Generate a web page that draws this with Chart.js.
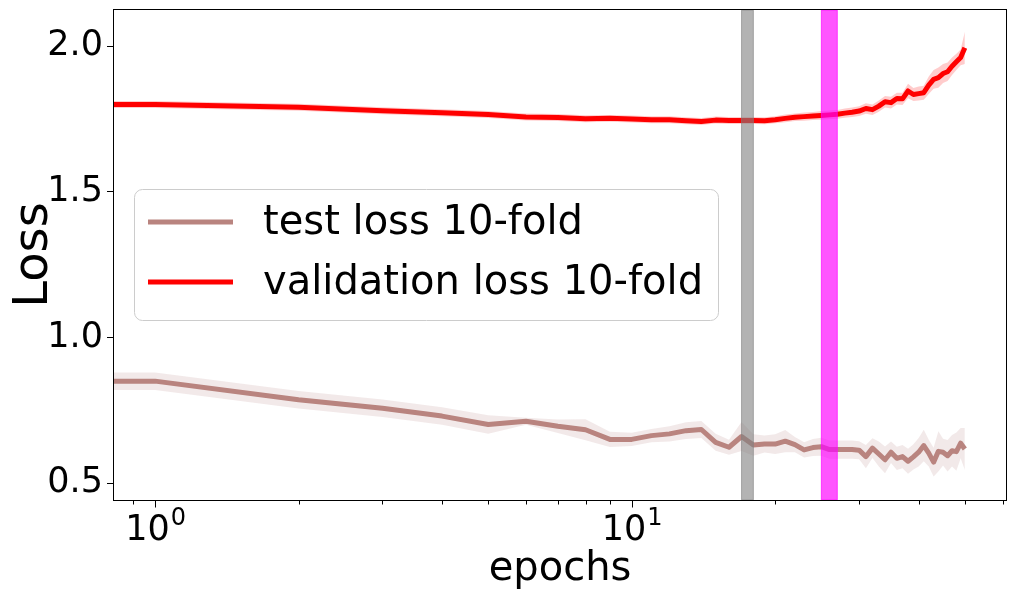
<!DOCTYPE html>
<html>
<head>
<meta charset="utf-8">
<script src="https://cdn.jsdelivr.net/npm/chart.js@4.4.0/dist/chart.umd.min.js"></script>
<style>
  html, body { margin: 0; padding: 0; background: #fff; }
  #wrap { width: 1017px; height: 594px; }
</style>
</head>
<body>
<div id="wrap"><canvas id="c"></canvas></div>
<script>
// ── Data ─────────────────────────────────────────────────────
const epochs = [0, 1, 2, 3, 4, 5, 6, 7, 8, 9, 10, 11, 12, 13, 14, 15, 16, 17, 18, 19, 20,
  21, 22, 23, 24, 25, 26, 27, 28, 29, 30, 31, 32, 33, 34, 35, 36, 37, 38, 39, 40,
  41, 42, 43, 44, 45, 46, 47, 48, 49, 50];

const testLoss = [0.850, 0.850, 0.786, 0.757, 0.730, 0.701, 0.712, 0.695, 0.683, 0.650, 0.650,
  0.663, 0.669, 0.680, 0.684, 0.640, 0.623, 0.660, 0.631, 0.634, 0.634,
  0.644, 0.632, 0.614, 0.622, 0.625, 0.615, 0.615, 0.615, 0.615, 0.613,
  0.591, 0.620, 0.600, 0.580, 0.606, 0.585, 0.591, 0.575, 0.590, 0.606,
  0.629, 0.603, 0.572, 0.609, 0.606, 0.594, 0.611, 0.608, 0.637, 0.617];

const testStd = [0.030, 0.030, 0.030, 0.030, 0.030, 0.032, 0.012, 0.023, 0.036, 0.026, 0.023,
  0.023, 0.026, 0.029, 0.029, 0.029, 0.026, 0.050, 0.037, 0.029, 0.034,
  0.038, 0.026, 0.026, 0.029, 0.031, 0.031, 0.031, 0.031, 0.031, 0.031,
  0.040, 0.034, 0.043, 0.046, 0.037, 0.040, 0.040, 0.043, 0.043, 0.049,
  0.054, 0.046, 0.049, 0.069, 0.046, 0.054, 0.054, 0.066, 0.052, 0.072];

const valLoss = [1.800, 1.800, 1.790, 1.778, 1.771, 1.765, 1.757, 1.755, 1.751, 1.752, 1.750,
  1.747, 1.747, 1.744, 1.741, 1.746, 1.745, 1.745, 1.745, 1.744, 1.747,
  1.752, 1.756, 1.758, 1.760, 1.762, 1.764, 1.766, 1.770, 1.773, 1.777,
  1.786, 1.782, 1.794, 1.809, 1.806, 1.820, 1.819, 1.846, 1.834, 1.837,
  1.840, 1.866, 1.886, 1.892, 1.906, 1.912, 1.931, 1.946, 1.961, 1.994];

const valStd = [0.012, 0.012, 0.012, 0.012, 0.012, 0.012, 0.012, 0.012, 0.012, 0.012, 0.012,
  0.012, 0.012, 0.012, 0.012, 0.012, 0.012, 0.012, 0.012, 0.012, 0.012,
  0.013, 0.013, 0.014, 0.014, 0.015, 0.015, 0.015, 0.016, 0.016, 0.017,
  0.018, 0.018, 0.019, 0.020, 0.020, 0.020, 0.021, 0.025, 0.022, 0.024,
  0.024, 0.030, 0.032, 0.035, 0.033, 0.032, 0.030, 0.028, 0.027, 0.055];

const yTicks   = [0.5, 1.0, 1.5, 2.0];
const xMajor   = [1, 10];
const xExp     = ['0', '1'];
const xMinor   = [0.9, 2, 3, 4, 5, 6, 7, 8, 9, 20, 30, 40, 50, 60];
const spans    = [[17, 18, 'rgba(128,128,128,0.6)'], [25, 27, 'rgba(255,0,255,0.67)']];
const labels   = ['test loss 10-fold', 'validation loss 10-fold'];

const TEST_COL = '#b9847f';
const VAL_COL  = '#ff0000';
const FONT     = '"DejaVu Sans", sans-serif';

const pts = (arr, sd, sign) => epochs.map((e, i) => ({ x: e, y: arr[i] + sign * (sd ? sd[i] : 0) }));

// ── Decorations: spans, frame, x ticks, legend ──────────────
const decor = {
  id: 'decor',
  afterDatasetsDraw(chart) {
    const { ctx, chartArea: a, scales: { x } } = chart;
    ctx.save();
    spans.forEach(([from, to, color]) => {
      const x0 = x.getPixelForValue(from), x1 = x.getPixelForValue(to);
      ctx.fillStyle = color;
      ctx.strokeStyle = color;
      ctx.lineWidth = 1;
      ctx.fillRect(x0, a.top, x1 - x0, a.bottom - a.top);
      ctx.strokeRect(x0, a.top, x1 - x0, a.bottom - a.top);
    });
    ctx.restore();
  },
  afterDraw(chart) {
    const { ctx, chartArea: a, scales: { x } } = chart;
    ctx.save();
    // frame
    ctx.strokeStyle = '#000';
    ctx.lineWidth = 1;
    ctx.strokeRect(Math.round(a.left) - 0.5, Math.round(a.top) - 0.5,
      Math.round(a.right - a.left) + 1, Math.round(a.bottom - a.top) + 1);

    // x ticks
    const yb = Math.round(a.bottom) + 0.5;
    ctx.beginPath();
    xMajor.forEach(v => { const p = Math.round(x.getPixelForValue(v)) + 0.5; ctx.moveTo(p, yb); ctx.lineTo(p, yb + 7); });
    xMinor.forEach(v => { const p = Math.round(x.getPixelForValue(v)) + 0.5; ctx.moveTo(p, yb); ctx.lineTo(p, yb + 4); });
    ctx.stroke();

    ctx.fillStyle = '#000';
    ctx.textBaseline = 'alphabetic';
    ctx.textAlign = 'left';
    xMajor.forEach((v, i) => {
      const p = x.getPixelForValue(v);
      ctx.font = '35px ' + FONT;
      const w1 = ctx.measureText('10').width;
      ctx.font = '24px ' + FONT;
      const w2 = ctx.measureText(xExp[i]).width;
      const start = p - (w1 + w2) / 2;
      ctx.font = '35px ' + FONT;
      ctx.fillText('10', start, a.bottom + 40);
      ctx.font = '24px ' + FONT;
      ctx.fillText(xExp[i], start + w1 + 1, a.bottom + 25);
    });

    // legend
    const lx = 134.5, ly = 189.5, lw = 584, lh = 131;
    ctx.beginPath();
    ctx.roundRect(lx, ly, lw, lh, 8);
    ctx.fillStyle = 'rgba(255,255,255,0.8)';
    ctx.fill();
    ctx.strokeStyle = '#cccccc';
    ctx.stroke();
    [TEST_COL, VAL_COL].forEach((c, i) => {
      const yy = 222 + i * 60;
      ctx.beginPath();
      ctx.moveTo(148, yy);
      ctx.lineTo(233, yy);
      ctx.strokeStyle = c;
      ctx.lineWidth = 5;
      ctx.stroke();
      ctx.fillStyle = '#000';
      ctx.font = '40px ' + FONT;
      ctx.textBaseline = 'middle';
      ctx.fillText(labels[i], 263, yy + 2);
    });
    ctx.restore();
  }
};

const band = (label, arr, sd, sign, color, fill) => ({
  label, data: pts(arr, sd, sign), borderWidth: 0, pointRadius: 0,
  backgroundColor: color, fill, order: 2
});

new Chart(document.getElementById('c'), {
  type: 'line',
  data: {
    datasets: [
      band('test upper', testLoss, testStd, 1, 'rgba(188,143,143,0.2)', '+1'),
      band('test lower', testLoss, testStd, -1, 'rgba(188,143,143,0.2)', false),
      band('val upper', valLoss, valStd, 1, 'rgba(255,0,0,0.2)', '+1'),
      band('val lower', valLoss, valStd, -1, 'rgba(255,0,0,0.2)', false),
      { label: labels[0], data: pts(testLoss, null, 0), borderColor: TEST_COL, borderWidth: 5,
        pointRadius: 0, fill: false, borderJoinStyle: 'round', order: 1 },
      { label: labels[1], data: pts(valLoss, null, 0), borderColor: VAL_COL, borderWidth: 5,
        pointRadius: 0, fill: false, borderJoinStyle: 'round', order: 1 }
    ]
  },
  options: {
    responsive: true, maintainAspectRatio: false, animation: false, devicePixelRatio: 1,
    layout: { padding: { left: 0, right: 11, top: 10, bottom: 0 } },
    plugins: { legend: { display: false }, tooltip: { enabled: false } },
    elements: { line: { tension: 0 } },
    scales: {
      x: {
        type: 'logarithmic', min: 0.82, max: 61,
        grid: { display: false }, border: { display: false },
        ticks: { display: false },
        title: { display: true, text: 'epochs', color: '#000', font: { family: FONT, size: 40 }, padding: { top: 4, bottom: 0 } },
        afterFit: s => { s.height = 94; s.paddingLeft = 0; s.paddingRight = 0; }
      },
      y: {
        min: 0.442, max: 2.124,
        afterBuildTicks: s => { s.ticks = yTicks.map(v => ({ value: v })); },
        grid: { display: true, drawOnChartArea: false, drawTicks: true, tickLength: 7, tickColor: '#000', tickWidth: 1 },
        border: { display: false },
        ticks: { color: '#000', font: { family: FONT, size: 35 }, padding: 4, callback: v => v.toFixed(1) },
        title: { display: true, text: 'Loss', color: '#000', font: { family: FONT, size: 48 }, padding: { top: 6, bottom: 0 } },
        afterFit: s => { s.width = 114; s.paddingTop = 0; s.paddingBottom = 0; }
      }
    }
  },
  plugins: [decor]
});
</script>
</body>
</html>
